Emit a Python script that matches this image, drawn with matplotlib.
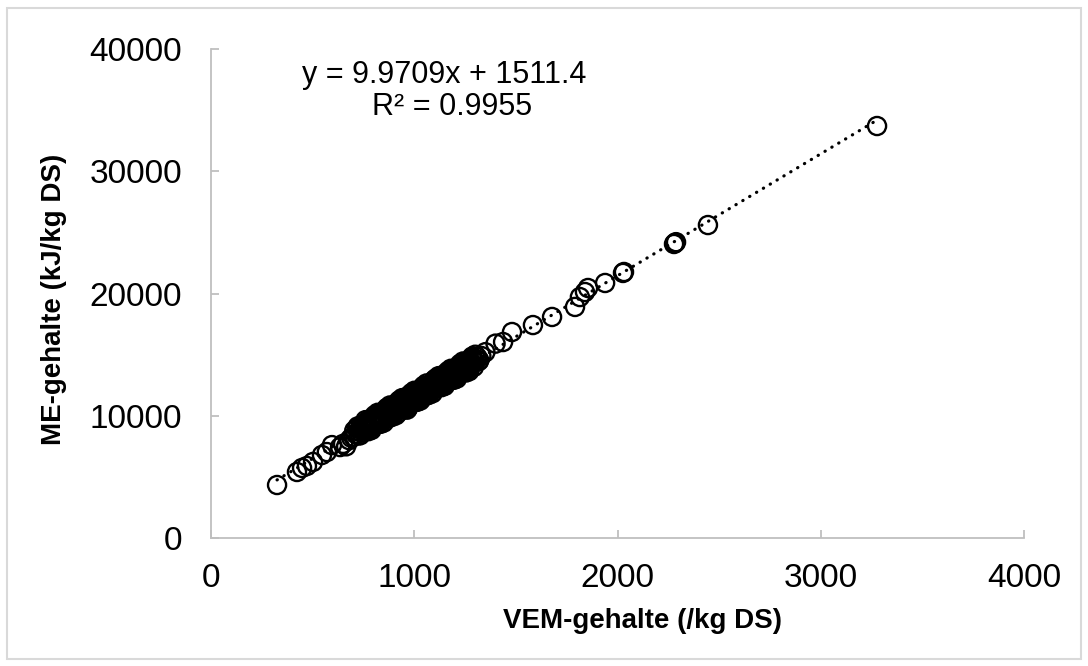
import matplotlib
matplotlib.use("Agg")
import matplotlib.pyplot as plt
from matplotlib.patches import Rectangle
import numpy as np

plt.rcParams['font.family'] = ['Liberation Sans', 'DejaVu Sans']

# VEM-gehalte (/kg DS)
vem = [325, 423, 448, 472, 502, 546, 570, 595, 635, 650, 665, 680, 690,
       700, 705, 712, 718, 725, 731, 738, 745, 752, 758, 765, 770, 777, 783, 790, 795,
       801, 808, 812, 818, 823, 829, 834, 840, 846, 851, 857, 862, 868, 873, 879, 884,
       890, 895, 901, 906, 912, 917, 923, 928, 934, 939, 945, 950, 956, 961, 967, 972,
       978, 983, 989, 994, 1000, 1005, 1011, 1016, 1022, 1027, 1033, 1038, 1044, 1049,
       1055, 1060, 1066, 1071, 1077, 1082, 1088, 1093, 1099, 1104, 1110, 1115, 1121,
       1126, 1132, 1137, 1143, 1148, 1154, 1159, 1165, 1170, 1176, 1181, 1187, 1192,
       1198, 1203, 1209, 1214, 1220, 1225, 1231, 1236, 1242, 1247, 1253, 1258, 1264,
       1270, 1280, 1290, 1300, 1310, 1320, 1330,
       860, 880, 900, 920, 940, 960, 965, 980, 1000, 1020, 1040, 1060, 1080, 1100,
       1120, 1140, 1160, 1180, 1200, 1220, 1240, 1260, 1280,
       722, 734, 746, 757, 769, 781, 793, 804, 816, 828, 839, 851, 863, 874, 886, 898,
       909, 921, 933, 944, 956, 968, 979, 991, 1003, 1014, 1026, 1038, 1049, 1061, 1073,
       1084, 1096, 1108, 1119, 1131, 1143, 1154, 1166, 1178, 1189, 1201, 1213, 1224,
       1236, 1248, 1259, 1271, 1283, 1294, 1306, 1318,
       760, 790, 820, 850, 880, 910, 940, 970, 1000, 1030, 1060, 1090, 1120, 1150,
       1180, 1210, 1240, 1270, 1300,
       775, 805, 835, 865, 895, 925, 955, 985, 1015, 1045, 1075, 1105, 1135, 1165,
       1195, 1225, 1255, 1285,
       1350, 1400, 1437, 1481, 1584, 1678, 1791, 1815, 1840, 1855, 1939,
       2027, 2032, 2278, 2283, 2288, 2445, 3277]

# ME-gehalte (kJ/kg DS)
me = [4335, 5400, 5730, 5890, 6220, 6790, 7030, 7600, 7440, 7700, 7500, 8000, 8200,
      8290, 8790, 8510, 8970, 8390, 8950, 8620, 9290, 8860, 9270, 8840, 9290, 9060, 9670, 9290, 9690,
      9150, 9720, 9410, 9970, 9620, 9980, 9530, 9990, 9800, 10350, 9810, 10260, 9820, 10470, 10180, 10630,
      10190, 10540, 10200, 10750, 10460, 11010, 10470, 10920, 10730, 11130, 10590, 11190, 10900, 11400, 10960, 11310,
      10970, 11570, 11280, 11780, 11240, 11690, 11250, 11850, 11560, 12060, 11620, 11970, 11630, 12230,
      11940, 12440, 11900, 12350, 11910, 12510, 12220, 12720, 12280, 12630, 12290, 12890, 12600,
      13100, 12560, 13010, 12570, 13170, 12880, 13380, 12940, 13290, 12950, 13550, 13260, 13760,
      13220, 13670, 13230, 13830, 13540, 14040, 13600, 13950, 13610, 14210, 13920, 14420, 13880,
      14340, 14090, 14640, 14390, 14790, 14540, 14890,
      10400, 10000, 10800, 10600, 10900, 11000, 10500, 11500, 11700, 11400, 12000, 11800, 12300, 12400,
      12900, 12700, 13000, 13400, 13300, 13800, 13700, 14100, 14400,
      9130, 8400, 9000, 8860, 9560, 8850, 9670, 9480, 10100, 9420, 10030, 9750, 10540, 9800, 10400, 10270,
      10960, 10250, 11070, 10880, 11500, 10820, 11430, 11150, 11940, 11200, 11800, 11670, 12360, 11650, 12470,
      12280, 12900, 12220, 12830, 12550, 13340, 12600, 13200, 13070, 13760, 13050, 13870, 13680,
      14300, 13620, 14230, 13950, 14740, 14000, 14600, 14470,
      9640, 8840, 10240, 9440, 10840, 10040, 11440, 10640, 12040, 11240, 12640, 11840, 13240, 12440,
      13840, 13040, 14440, 13640, 14990,
      8740, 10040, 9340, 10640, 9940, 11240, 10540, 11840, 11140, 12440, 11740, 13040, 12340, 13640,
      12940, 14240, 13540, 14840,
      15200, 15900, 16030, 16850, 17420, 18080, 18900, 19710, 20120, 20450, 20860,
      21680, 21760, 24050, 24130, 24200, 25600, 33700]

slope = 9.9709
intercept = 1511.4

x_ticks = [0, 1000, 2000, 3000, 4000]
y_ticks = [0, 10000, 20000, 30000, 40000]

fig = plt.figure(figsize=(10.88, 6.66), dpi=100)
ax = fig.add_axes([211/1088, 1 - 538/666, (1024-211)/1088, (538-49)/666])

# trendline over data range
xl = np.array([min(vem), max(vem)])
ax.plot(xl, slope * xl + intercept, color='black', lw=2.3,
        linestyle=(0, (0.1, 2.4)), dash_capstyle='round', zorder=3)

ax.scatter(vem, me, s=170, facecolors='none', edgecolors='black', linewidths=1.7, zorder=2)

ax.set_xlim(0, 4000)
ax.set_ylim(0, 40000)
ax.set_xticks(x_ticks)
ax.set_yticks(y_ticks)
ax.set_xticklabels([str(t) for t in x_ticks])
ax.set_yticklabels([str(t) for t in y_ticks])

grey = '#bfbfbf'
for s in ['top', 'right']:
    ax.spines[s].set_visible(False)
for s in ['left', 'bottom']:
    ax.spines[s].set_color(grey)
    ax.spines[s].set_linewidth(1.3)

ax.tick_params(axis='both', direction='in', length=6, width=1.3, color=grey,
               labelsize=24, labelcolor='black')
ax.tick_params(axis='x', pad=18)
ax.tick_params(axis='y', pad=21)

ax.set_xlabel('VEM-gehalte (/kg DS)', fontsize=20, fontweight='bold')
ax.set_ylabel('ME-gehalte (kJ/kg DS)', fontsize=20, fontweight='bold')
ax.xaxis.set_label_coords(0.531, -0.143)
ax.yaxis.set_label_coords(-0.177, 0.487)

ax.text(1146, 37219, 'y = 9.9709x + 1511.4', fontsize=22, ha='center', va='baseline')
ax.text(1186, 34601, 'R² = 0.9955', fontsize=22, ha='center', va='baseline')

fig.patches.append(Rectangle((7/1088, 1 - 659/666), (1081-7)/1088, (659-8)/666,
                             transform=fig.transFigure, fill=False,
                             edgecolor='#d9d9d9', linewidth=1.5))

fig.savefig('out.png', dpi=100)
